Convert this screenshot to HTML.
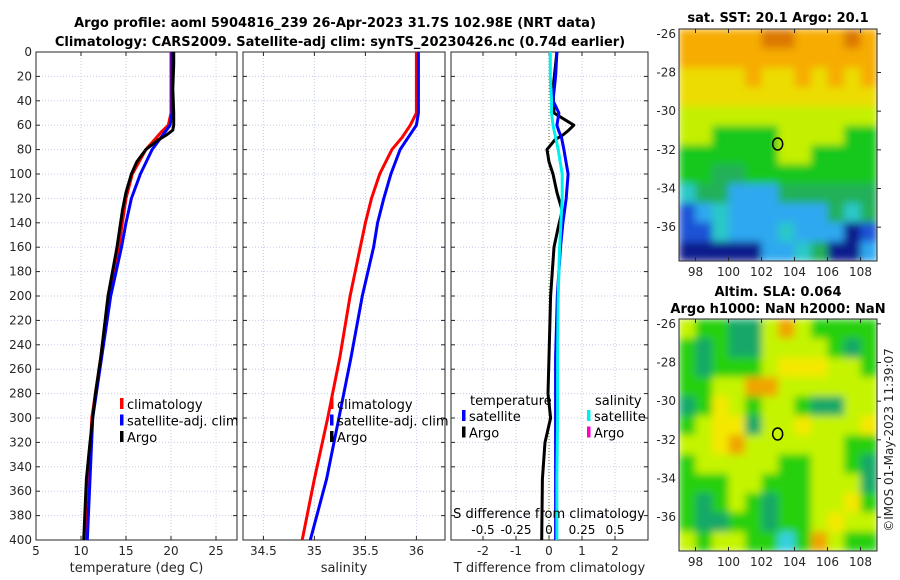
<!DOCTYPE html>
<html><head><meta charset="utf-8"><style>
body{margin:0;background:#fff;}
svg{display:block;font-family:"DejaVu Sans","Liberation Sans",sans-serif;}
</style></head><body>
<svg id="fig" width="900" height="580" viewBox="0 0 900 580">
<defs>
<filter id="blur" x="0" y="0" width="1" height="1"><feGaussianBlur stdDeviation="4" edgeMode="duplicate"/></filter>
<clipPath id="clipTop"><rect x="679" y="29" width="198" height="232"/></clipPath>
<clipPath id="clipBot"><rect x="679" y="319" width="198" height="232"/></clipPath>
</defs>
<text x="335" y="27" text-anchor="middle" font-size="13" font-weight="bold" fill="#000">Argo profile: aoml 5904816_239 26-Apr-2023 31.7S 102.98E (NRT data)</text>
<text x="340" y="46" text-anchor="middle" font-size="13" font-weight="bold" fill="#000">Climatology: CARS2009. Satellite-adj clim: synTS_20230426.nc (0.74d earlier)</text>
<text x="778" y="22" text-anchor="middle" font-size="13" font-weight="bold" fill="#000">sat. SST: 20.1 Argo: 20.1</text>
<text x="778" y="296" text-anchor="middle" font-size="13" font-weight="bold" fill="#000">Altim. SLA: 0.064</text>
<text x="778" y="313" text-anchor="middle" font-size="13" font-weight="bold" fill="#000">Argo h1000: NaN h2000: NaN</text>
<text transform="translate(893,440) rotate(-90)" text-anchor="middle" font-size="12" fill="#262626">©IMOS 01-May-2023 11:39:07</text>
<g id="g"></g>
</svg>
<script>
// ---- data ----
const depths = [0,20,40,50,60,65,70,80,100,120,140,160,200,250,300,350,400];
const tempClim = [20.0,20.0,20.0,20.0,19.7,19.0,18.4,17.2,15.7,15.0,14.6,14.2,13.1,12.2,11.2,10.9,10.6];
const tempSat  = [20.1,20.1,20.1,20.1,19.9,19.4,18.9,17.9,16.6,15.6,15.0,14.5,13.3,12.3,11.3,11.0,10.7];
const argoDepths = [0,10,30,50,60,64,68,72,80,90,100,115,130,145,160,200,250,280,300,320,350,400];
const tempArgo = [20.3,20.3,20.2,20.3,20.3,20.2,19.5,18.6,17.2,16.2,15.6,15.0,14.6,14.3,14.0,13.0,12.2,11.6,11.3,11.0,10.6,10.3];
const salClim = [36.0,36.0,36.0,36.0,35.94,35.9,35.86,35.76,35.64,35.56,35.5,35.45,35.35,35.25,35.13,35.0,34.88];
const salSat  = [36.02,36.02,36.02,36.02,36.0,35.96,35.92,35.84,35.75,35.68,35.62,35.58,35.47,35.36,35.24,35.12,34.96];
const diffTSat = [0.24,0.2,0.12,0.3,0.24,0.3,0.38,0.45,0.58,0.52,0.42,0.35,0.25,0.2,0.2,0.2,0.2];
const diffSSat = [0.01,0.01,0.02,0.02,0.03,0.04,0.05,0.07,0.1,0.1,0.09,0.08,0.07,0.065,0.065,0.06,0.06];
const diffTArgo = [0.24,0.2,0.12,0.15,0.75,0.6,0.42,0.18,-0.06,0.0,0.12,0.24,0.4,0.27,0.15,0.05,0.0,-0.03,0.05,-0.12,-0.2,-0.22];
const tempTicks = [5,10,15,20,25];
const salTicks = [34.5,35,35.5,36];
const diffTTicks = [-2,-1,0,1,2];
const diffSTicks = [-0.5,-0.25,0,0.25,0.5];
const diffSTickLabels = ["-0.5","-0.25","0","0.25","0.5"];
const depthTicks = [0,20,40,60,80,100,120,140,160,180,200,220,240,260,280,300,320,340,360,380,400];
const lonTicks = [98,100,102,104,106,108];
const latTicks = [-26,-28,-30,-32,-34,-36];
const sstGrid = [
[8,8,8,8,8,9,9,8,8,8,9,8],
[8,8,8,8,8,8,8,8,8,8,8,8],
[7,7,7,7,8,7,7,8,7,8,7,8],
[7,7,7,7,7,7,7,7,7,7,7,7],
[6,6,6,6,6,6,6,6,6,6,6,6],
[6,6,5,5,5,5,6,6,6,6,5,5],
[5,5,5,5,5,5,6,6,5,5,5,5],
[5,5,4,4,5,5,5,5,5,5,5,5],
[3,4,4,2,2,2,4,4,4,4,4,4],
[1,2,3,2,2,2,2,2,2,4,3,4],
[1,1,3,2,2,2,3,2,2,2,0,1],
[0,0,0,0,0,2,2,3,4,0,0,2]];
const slaGrid = [
[3,2,2,1,1,3,5,3,2,2,2,2],
[2,1,2,1,1,3,3,3,3,2,1,2],
[2,1,2,2,2,3,4,4,4,3,3,2],
[2,2,3,3,5,5,3,3,3,3,3,3],
[1,2,4,3,2,3,3,2,1,1,3,3],
[2,3,4,4,1,3,3,4,3,3,3,4],
[3,3,4,5,3,3,3,3,3,3,2,2],
[2,3,3,3,3,3,2,2,3,3,2,1],
[2,2,2,3,3,2,2,2,3,3,3,1],
[2,1,2,3,2,1,2,2,3,3,4,2],
[2,1,1,2,2,1,2,2,3,4,3,3],
[3,2,3,3,2,2,0,2,5,3,2,2]];
const floatLon = 102.98, floatLat = -31.7;

const sstColors = ["#0a1c8c","#1f52d6","#2ea8f0","#2cc8c8","#22b058","#12c81e","#c4f000","#ecdc00","#f6ac00","#dc7800"];
const slaColors = ["#34d0e0","#18a868","#26d010","#c4f400","#f4e800","#f0a400"];

const NS="http://www.w3.org/2000/svg";
const G=document.getElementById('g');
function mk(tag,at,parent){const e=document.createElementNS(NS,tag);for(const k in at)e.setAttribute(k,at[k]);(parent||G).appendChild(e);return e;}
const TOP=52,BOT=540;
const yD=d=>TOP+d*(BOT-TOP)/400;
const gridStroke="#c4cce8";

function panel(name,x0,x1,xs,ticks,tickLabels,labelText,showY){
  const pg=mk('g',{});
  
  
  ticks.forEach(t=>{const l=mk('line',{x1:xs(t),x2:xs(t),y1:TOP,y2:BOT,stroke:gridStroke,'stroke-dasharray':'1,2'},pg);
    
    });
  depthTicks.forEach(d=>{const l=mk('line',{x1:x0,x2:x1,y1:yD(d),y2:yD(d),stroke:gridStroke,'stroke-dasharray':'1,2'},pg);
    
    });
  ticks.forEach((t,i)=>{
    mk('line',{x1:xs(t),x2:xs(t),y1:BOT,y2:BOT-4,stroke:'#262626'},pg);
    mk('line',{x1:xs(t),x2:xs(t),y1:TOP,y2:TOP+4,stroke:'#262626'},pg);
    const tx=mk('text',{x:xs(t),y:BOT+15,'text-anchor':'middle','font-size':12,fill:'#262626'},pg);
    tx.textContent=tickLabels?tickLabels[i]:t;
    
    
  });
  depthTicks.forEach(d=>{
    mk('line',{x1:x0,x2:x0+4,y1:yD(d),y2:yD(d),stroke:'#262626'},pg);
    mk('line',{x1:x1,x2:x1-4,y1:yD(d),y2:yD(d),stroke:'#262626'},pg);
    if(showY){const tx=mk('text',{x:x0-4,y:yD(d)+4,'text-anchor':'end','font-size':12,fill:'#262626'},pg);
      tx.textContent=d;
      
      }
  });
  const r=mk('rect',{x:x0,y:TOP,width:x1-x0,height:BOT-TOP,fill:'none',stroke:'#262626','stroke-width':1},pg);
  
  
  const lb=mk('text',{x:(x0+x1)/2,y:572,'text-anchor':'middle','font-size':13,fill:'#262626'},pg);
  lb.textContent=labelText;
  
  
  return pg;
}
function line(pg,xs,vals,ds,color,name,w){
  const p=vals.map((v,i)=>(i?'L':'M')+xs(v).toFixed(1)+','+yD(ds[i]).toFixed(1)).join('');
  const e=mk('path',{d:p,fill:'none',stroke:color,'stroke-width':w||3,'stroke-linejoin':'round'},pg);
  
  
}
function legend(pg,x,y,items){
  items.forEach((it,i)=>{
    const yy=y+i*16.5;
    const m=mk('rect',{x:x,y:yy-11,width:3.5,height:11,fill:it[1]},pg);
    
    
    const t=mk('text',{x:x+7,y:yy,'font-size':13,fill:'#000'},pg);
    t.textContent=it[0];
    
    
  });
}
// panel 1: temperature
const xT=t=>36+(t-5)*9;
const p1=panel('temperature',36,237,xT,tempTicks,null,'temperature (deg C)',true);
line(p1,xT,tempClim,depths,'#ff0000','temperature-climatology-line');
line(p1,xT,tempSat,depths,'#0000ff','temperature-satellite-line');
line(p1,xT,tempArgo,argoDepths,'#000','temperature-argo-line');
legend(p1,120,409,[['climatology','#ff0000'],['satellite-adj. clim','#0000ff'],['Argo','#000']]);
// panel 2: salinity
const xS=s=>243+(s-34.3)*102;
const p2=panel('salinity',243,445,xS,salTicks,null,'salinity',false);
line(p2,xS,salClim,depths,'#ff0000','salinity-climatology-line');
line(p2,xS,salSat,depths,'#0000ff','salinity-satellite-line');
legend(p2,330,409,[['climatology','#ff0000'],['satellite-adj. clim','#0000ff'],['Argo','#000']]);
// panel 3: differences
const xDT=v=>549+v*33;
const xDS=v=>549+v*132;
const p3=panel('difference',451,648,xDT,diffTTicks,null,'T difference from climatology',false);
const z=mk('line',{x1:549,x2:549,y1:TOP,y2:BOT,stroke:'#556b2f','stroke-dasharray':'1,2'},p3);


line(p3,xDT,diffTArgo,argoDepths,'#000','t-diff-argo-line');
line(p3,xDT,diffTSat,depths,'#0000ff','t-diff-satellite-line');
line(p3,xDS,diffSSat,depths,'#00f0f0','s-diff-satellite-line');
const t1=mk('text',{x:470,y:405,'font-size':13,fill:'#000'},p3);t1.textContent='temperature';


const t2=mk('text',{x:595,y:405,'font-size':13,fill:'#000'},p3);t2.textContent='salinity';


legend(p3,462,421,[['satellite','#0000ff'],['Argo','#000']]);
legend(p3,587,421,[['satellite','#00f0f0'],['Argo','#ff00c8']]);
const st=mk('text',{x:549,y:518,'text-anchor':'middle','font-size':13,fill:'#000'},p3);st.textContent='S difference from climatology';


diffSTicks.forEach((s,i)=>{const t=mk('text',{x:xDS(s),y:534,'text-anchor':'middle','font-size':12,fill:'#000'},p3);t.textContent=diffSTickLabels[i];
  
  });

// maps
function map(name,y0,grid,colors,clip){
  const x0=679,x1=877,y1=y0+232;
  const lon0=97,lon1=109,latTop=-25.75,latBot=-37.75;
  const xl=l=>x0+(l-lon0)*(x1-x0)/(lon1-lon0);
  const yl=l=>y0+(latTop-l)*(y1-y0)/(latTop-latBot);
  const mg=mk('g',{});
  
  
  const cg=mk('g',{'clip-path':'url(#'+clip+')'},mg);
  const cells=mk('g',{filter:'url(#blur)'},cg);
  grid.forEach((row,r)=>row.forEach((c,k)=>{
    const rc=mk('rect',{x:xl(lon0+k).toFixed(1),y:yl(latTop-r).toFixed(1),width:(xl(1)-xl(0)+0.6).toFixed(1),height:(yl(latTop-1)-yl(latTop)+0.6).toFixed(1),fill:colors[c]},cells);
    
    
  }));
  const b=mk('rect',{x:x0,y:y0,width:x1-x0,height:y1-y0,fill:'none',stroke:'#262626'},mg);
  
  
  lonTicks.forEach(l=>{mk('line',{x1:xl(l),x2:xl(l),y1:y1,y2:y1-4,stroke:'#262626'},mg);
    mk('line',{x1:xl(l),x2:xl(l),y1:y0,y2:y0+4,stroke:'#262626'},mg);
    const t=mk('text',{x:xl(l),y:y1+15,'text-anchor':'middle','font-size':12,fill:'#262626'},mg);t.textContent=l;
    
    });
  latTicks.forEach(l=>{mk('line',{x1:x1,x2:x1+4,y1:yl(l),y2:yl(l),stroke:'#262626'},mg);
    const t=mk('text',{x:x0-3,y:yl(l)+4,'text-anchor':'end','font-size':12,fill:'#262626'},mg);t.textContent=l;
    
    });
  const c=mk('ellipse',{cx:xl(floatLon),cy:yl(floatLat),rx:5,ry:6,fill:'none',stroke:'#000','stroke-width':1.5},mg);
  
  
}
map('sst-map',29,sstGrid,sstColors,'clipTop');
map('sla-map',319,slaGrid,slaColors,'clipBot');
</script>
</body></html>
